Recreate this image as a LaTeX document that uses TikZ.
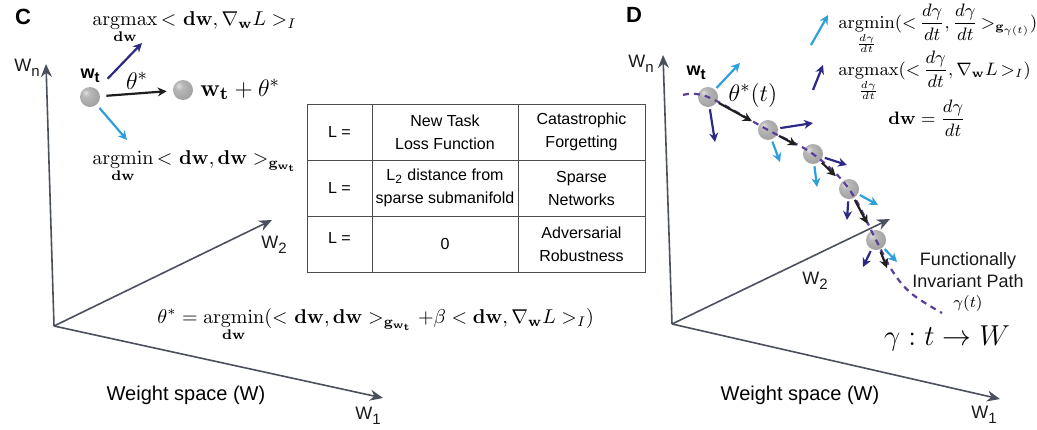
\documentclass[tikz,border=0pt]{standalone}
\usepackage[no-math]{fontspec}
\usepackage{amsmath}
\newfontfamily\arial{Liberation Sans}
\usetikzlibrary{arrows.meta}

\definecolor{axisgray}{HTML}{4A505C}
\definecolor{navy}{HTML}{2D2A86}
\definecolor{skyblue}{HTML}{2E9FDA}
\definecolor{pathpurple}{HTML}{5A3E98}

% soft grey sphere with a highlight up and to the left
\pgfdeclareradialshading{softball}{\pgfpoint{-12bp}{12bp}}{%
  color(0bp)=(black!12); color(10bp)=(black!28); color(28bp)=(black!36);
  color(44bp)=(black!44); color(50bp)=(black!50)}

% axis label with a lowered subscript, as in W_n
\newcommand\axlabel[2]{#1\raisebox{-0.55ex}{\fontsize{7.5}{8}\selectfont #2}}

\tikzset{
  axis/.style={draw=axisgray, line width=0.8pt, -{Stealth[length=6.5pt,width=5.5pt]}},
  vec/.style={line width=1.1pt, -{Stealth[length=4.5pt,width=4.5pt]}},
  navyvec/.style={vec, draw=navy},
  skyvec/.style={vec, draw=skyblue},
  stepvec/.style={vec, draw=black!88},
  ball/.style={circle, minimum size=10pt, inner sep=0pt, shading=softball},
  panel/.style={font=\arial\bfseries\fontsize{11}{13}\selectfont},
  axlab/.style={font=\arial\fontsize{9}{11}\selectfont, text=black!90},
  wlab/.style={font=\arial\bfseries\fontsize{9}{11}\selectfont},
  caption/.style={font=\arial\fontsize{10}{12}\selectfont},
  mth/.style={font=\fontsize{10}{12}\selectfont, inner sep=0pt},
  legmth/.style={font=\fontsize{9}{11}\selectfont, inner sep=0pt},
  bigmth/.style={font=\fontsize{12.5}{15}\selectfont, inner sep=0pt},
  cell/.style={draw=black!70, line width=0.5pt, align=center, inner sep=0pt,
    minimum height=28pt, font=\arial\fontsize{8}{11.5}\selectfont},
  flow/.style={draw=pathpurple, line width=1.1pt, dash pattern=on 3pt off 2.5pt}
}

\begin{document}
\begin{tikzpicture}[x=0.5pt, y=-0.5pt]
\useasboundingbox (0,0) rectangle (1037,429);

% ---------------- panel C ----------------
\node[panel] (labC) at (23,17) {C};

\coordinate (cO) at (54,326);
\coordinate (cWn) at (46,64);
\coordinate (cW2) at (272,220);
\coordinate (cW1) at (383,398);
\draw[axis] (cO) -- (cWn);
\draw[axis] (cO) -- (cW2);
\draw[axis] (cO) -- (cW1);

\node[axlab] (cLn) at (27,68) {\axlabel{W}{n}};
\node[axlab] (cL2) at (274,245) {\axlabel{W}{2}};
\node[axlab] (cL1) at (368,416) {\axlabel{W}{1}};
\node[caption] (cCap) at (186,395) {Weight space (W)};

\node[ball] (cb0) at (90,97) {};
\node[ball] (cb1) at (183,90) {};
\node[wlab] (cwt) at (90,76) {w\raisebox{-0.45ex}{\fontsize{7.5}{8}\selectfont t}};

\coordinate (cMax) at (142,43);
\coordinate (cMin) at (127,140);
\draw[navyvec, shorten <=7.5pt] (cb0) -- (cMax);
\draw[skyvec, shorten <=2pt] (cb0) -- (cMin);
\draw[stepvec, shorten <=3pt, shorten >=3pt] (cb0) -- (cb1);
\node[bigmth] (cTheta) at (137,81) {$\theta^{*}$};
\node[bigmth, anchor=base west] (cNext) at (200,96) {$\mathbf{w_t}+\theta^{*}$};

\node[mth, anchor=base west] (cArgmax) at (92,25)
  {$\mathop{\mathrm{argmax}}\limits_{\mathbf{dw}}{<}\ \mathbf{dw},\nabla_{\mathbf{w}}L>_{I}$};
\node[mth, anchor=base west] (cArgmin) at (92,164)
  {$\mathop{\mathrm{argmin}}\limits_{\mathbf{dw}}{<}\ \mathbf{dw},\mathbf{dw}>_{\mathbf{g}_{\mathbf{w_t}}}$};

\node[mth, anchor=base west] (cRule) at (157,323)
  {$\theta^{*}=\mathop{\mathrm{argmin}}\limits_{\mathbf{dw}}({<}\ \mathbf{dw},\mathbf{dw}>_{\mathbf{g}_{\mathbf{w_t}}}+\beta<\mathbf{dw},\nabla_{\mathbf{w}}L>_{I})$};

% ---------------- table of losses ----------------
\node[cell, minimum width=32.5pt] (t11) at (339.5,132) {L =};
\node[cell, minimum width=73pt]   (t12) at (445,132) {New Task\\Loss Function};
\node[cell, minimum width=63.5pt] (t13) at (581.5,132) {Catastrophic\\Forgetting};
\node[cell, minimum width=32.5pt] (t21) at (339.5,188) {L =};
\node[cell, minimum width=73pt]   (t22) at (445,188) {L\textsubscript{2} distance from\\sparse submanifold};
\node[cell, minimum width=63.5pt] (t23) at (581.5,188) {Sparse\\Networks};
\node[cell, minimum width=32.5pt] (t31) at (339.5,244) {\raisebox{6pt}{L =}};
\node[cell, minimum width=73pt]   (t32) at (445,244) {0};
\node[cell, minimum width=63.5pt] (t33) at (581.5,244) {Adversarial\\Robustness};

% ---------------- panel D ----------------
\node[panel] (labD) at (634,15) {D};

\coordinate (dO) at (672,324);
\coordinate (dWn) at (663,55);
\coordinate (dW2) at (890,219);
\coordinate (dW1) at (1000,399);
\draw[axis] (dO) -- (dWn);
\draw[axis] (dO) -- (dW2);
\draw[axis] (dO) -- (dW1);

\node[axlab] (dLn) at (641,64) {\axlabel{W}{n}};
\node[axlab] (dL2) at (815,281) {\axlabel{W}{2}};
\node[axlab] (dL1) at (984,415) {\axlabel{W}{1}};
\node[caption] (dCap) at (800,395) {Weight space (W)};

\node[ball] (d1) at (708,97) {};
\node[ball] (d2) at (768,130) {};
\node[ball] (d3) at (813,154) {};
\node[ball] (d4) at (849,189) {};
\node[ball] (d5) at (876,240) {};
\node[wlab] (dwt) at (696,73) {w\raisebox{-0.45ex}{\fontsize{7.5}{8}\selectfont t}};

% the functionally invariant path through the weights
\draw[flow] plot[smooth, tension=0.6] coordinates
  {(683,95) (708,97) (768,130) (813,154) (849,189) (876,240) (893,272) (912,294) (942,313)};

% steps along the path
\coordinate (d6) at (887,268);
\draw[stepvec, shorten <=1pt, shorten >=4pt] (d1) -- (d2);
\draw[stepvec, shorten <=1pt, shorten >=4pt] (d2) -- (d3);
\draw[stepvec, shorten <=1pt, shorten >=4pt] (d3) -- (d4);
\draw[stepvec, shorten <=1pt, shorten >=4pt] (d4) -- (d5);
\draw[stepvec, shorten <=1pt] (d5) -- (d6);

% metric-minimising directions
\coordinate (s1) at (740,63);
\coordinate (s2) at (780,162);
\coordinate (s3) at (817,187);
\coordinate (s4) at (878,205);
\coordinate (s5) at (897,262);
\draw[skyvec, shorten <=1pt] (d1) -- (s1);
\draw[skyvec, shorten <=1pt] (d2) -- (s2);
\draw[skyvec, shorten <=1pt] (d3) -- (s3);
\draw[skyvec, shorten <=1pt] (d4) -- (s4);
\draw[skyvec, shorten <=1pt] (d5) -- (s5);

% loss-gradient directions
\coordinate (g1) at (715,142);
\coordinate (g2) at (813,123);
\coordinate (g3) at (847,165);
\coordinate (g4) at (847,220);
\coordinate (g5) at (863,267);
\draw[navyvec, shorten <=1pt] (d1) -- (g1);
\draw[navyvec, shorten <=1pt] (d2) -- (g2);
\draw[navyvec, shorten <=1pt] (d3) -- (g3);
\draw[navyvec, shorten <=1pt] (d4) -- (g4);
\draw[navyvec, shorten <=1pt] (d5) -- (g5);

\node[bigmth] (dTheta) at (753,95) {$\theta^{*}(t)$};

% legend
\coordinate (ls0) at (811,45);
\coordinate (ls1) at (828,15);
\coordinate (ln0) at (813,90);
\coordinate (ln1) at (823,65);
\draw[skyvec] (ls0) -- (ls1);
\draw[navyvec] (ln0) -- (ln1);
\node[legmth, anchor=base west] (dArgmin) at (838,28)
  {$\mathop{\mathrm{argmin}}\limits_{\frac{d\gamma}{dt}}(\mathord{<}\,\dfrac{d\gamma}{dt},\dfrac{d\gamma}{dt}\,\mathord{>}_{\mathbf{g}_{\gamma(t)}})$};
\node[legmth, anchor=base west] (dArgmax) at (838,75)
  {$\mathop{\mathrm{argmax}}\limits_{\frac{d\gamma}{dt}}(\mathord{<}\,\dfrac{d\gamma}{dt},\nabla_{\mathbf{w}}L\,\mathord{>}_{I})$};
\node[legmth, font=\fontsize{9.5}{11}\selectfont, anchor=base west] (dDw) at (888,124)
  {$\mathbf{dw}=\dfrac{d\gamma}{dt}$};

\node[axlab, align=center] (dPath) at (968,270) {Functionally\\Invariant Path};
\node[mth, font=\fontsize{8.5}{10}\selectfont] (dGam) at (968,303) {$\gamma(t)$};
\node[bigmth, font=\fontsize{13.5}{16}\selectfont] (dMap) at (947,338) {$\gamma:t\rightarrow W$};
\end{tikzpicture}
\end{document}
